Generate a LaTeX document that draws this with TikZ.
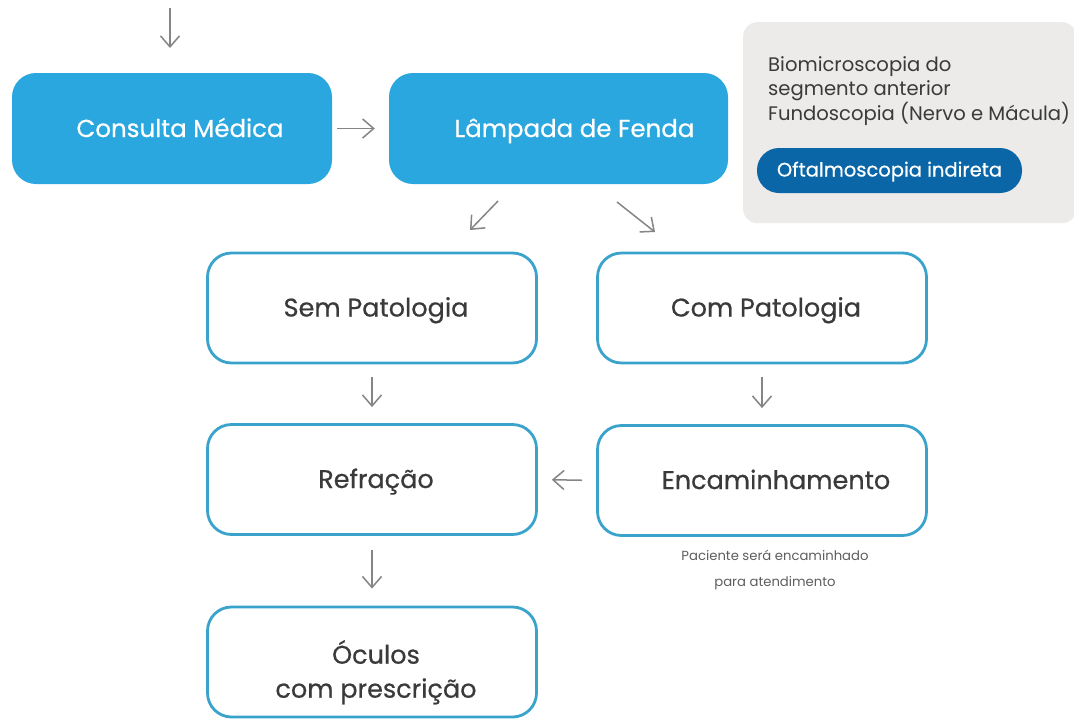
\documentclass[tikz,border=0pt]{standalone}
\usepackage{fontspec}
\setmainfont{Poppins}
\newfontfamily\medfont{Poppins}[FakeBold=0.6]
\usetikzlibrary{arrows.meta}
\definecolor{bluefill}{HTML}{2AA7DF}
\definecolor{pilldark}{HTML}{0B66A8}
\definecolor{outline}{HTML}{3AA3CC}
\definecolor{panelgray}{HTML}{ECEBEA}
\definecolor{txt}{HTML}{3A3A3A}
\definecolor{arrowgray}{HTML}{858585}
\definecolor{smalltxt}{HTML}{5E5E5E}
\tikzset{
  bluebox/.style={rectangle, rounded corners=24pt, fill=bluefill, text=white,
    minimum width=320pt, minimum height=111pt, font=\medfont\fontsize{24.5}{28}\selectfont,
    inner sep=0pt, text height=20pt, text depth=3pt},
  whitebox/.style={rectangle, rounded corners=24pt, draw=outline, line width=2.8pt, fill=white, text=txt,
    minimum width=329pt, minimum height=110pt, font=\medfont\fontsize{25.5}{34}\selectfont,
    inner sep=0pt, align=center},
  oneline/.style={text height=20pt, text depth=3pt},
  flow/.style={draw=arrowgray, line width=1.5pt, -{Straight Barb[length=11pt,width=19pt,line width=1.5pt]}},
}
\begin{document}
\begin{tikzpicture}[x=1pt,y=-1pt]
\useasboundingbox (0,0) rectangle (1074,718);
\clip (0,0) rectangle (1074,718);
\fill[white] (0,0) rectangle (1074,718);

% gray info panel
\node[rectangle, rounded corners=14pt, fill=panelgray, minimum width=333pt, minimum height=201pt,
  inner sep=0pt, anchor=north west] (panel) at (743,22) {};
\node[anchor=north west, text=txt, align=left, font=\fontsize{19.6}{24.5}\selectfont, inner sep=0pt]
  (paneltext) at (768,56) {Biomicroscopia do\\segmento anterior\\Fundoscopia (Nervo e Mácula)};
\node[rectangle, rounded corners=22pt, fill=pilldark, text=white, minimum width=265pt, minimum height=45pt,
  inner sep=0pt, font=\medfont\fontsize{19.5}{22}\selectfont, text height=14pt, text depth=2pt] (pill) at (889.5,170.5) {Oftalmoscopia indireta};

% top row
\node[bluebox] (consulta) at (172,128.5) {\hspace*{16pt}Consulta Médica};
\node[bluebox, minimum width=339pt] (lampada) at (558.5,128.5) {\hspace*{32pt}Lâmpada de Fenda};

% middle and bottom
\node[whitebox, oneline] (sem) at (372,308) {\hspace*{8pt}Sem Patologia};
\node[whitebox, oneline] (com) at (762,308) {\hspace*{8pt}Com Patologia};
\node[whitebox, oneline] (refr) at (372,479.5) {\hspace*{8pt}Refração};
\node[whitebox, oneline] (enc) at (762,480.5) {\hspace*{28pt}Encaminhamento};
\node[whitebox] (oculos) at (372,662) {\rule{0pt}{44pt}\hspace*{8pt}Óculos\\\hspace*{8pt}com prescrição};

\node[text=smalltxt, align=center, font=\fontsize{13.2}{26}\selectfont, inner sep=0pt]
  (note) at (775,570) {Paciente será encaminhado\\para atendimento};

% arrows
\coordinate (topstart) at (170,8);
\coordinate (topend) at (170,48);
\draw[flow] (topstart) -- (topend);
\draw[flow, shorten <=5pt, shorten >=14pt] (consulta.east) -- (lampada.west);
\coordinate (dlA) at (498,201);
\coordinate (dlB) at (470,230);
\draw[flow] (dlA) -- (dlB);
\coordinate (drA) at (617,202);
\coordinate (drB) at (655,232);
\draw[flow] (drA) -- (drB);
\draw[flow, shorten <=13pt, shorten >=16pt] (sem.south) -- (refr.north);
\draw[flow, shorten <=13pt, shorten >=16pt] (com.south) -- (enc.north);
\draw[flow, shorten <=14pt, shorten >=14pt] (enc.west) -- (refr.east);
\draw[flow, shorten <=14pt, shorten >=17pt] (refr.south) -- (oculos.north);
\end{tikzpicture}
\end{document}
